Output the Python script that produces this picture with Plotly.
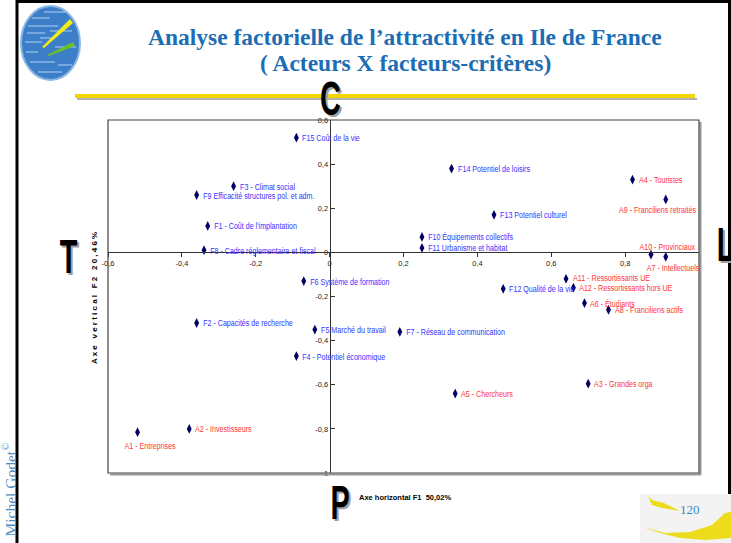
import json
import plotly.graph_objects as go

# ---------------- data ----------------
names = ["F1 - Coût de l'implantation", "F2 - Capacités de recherche", "F3 - Climat social",
         "F4 - Potentiel économique", "F5 Marché du travail", "F6 Système de formation",
         "F7 - Réseau de communication", "F8 - Cadre réglementaire et fiscal",
         "F9 Efficacité structures pol. et adm.", "F10 Équipements collectifs",
         "F11 Urbanisme et habitat", "F12 Qualité de la vie", "F13 Potentiel culturel",
         "F14 Potentiel de loisirs", "F15 Coût de la vie",
         "A1 - Entreprises", "A2 - Investisseurs", "A3 - Grandes orga", "A4 - Touristes",
         "A5 - Chercheurs", "A6 - Étudiants", "A7 - Intellectuels", "A8 - Franciliens actifs",
         "A9 - Franciliens retraités", "A10 - Provinciaux", "A11 - Ressortissants UE",
         "A12 - Ressortissants hors UE"]
f1_values = [-0.33, -0.36, -0.26, -0.09, -0.04, -0.07, 0.19, -0.34, -0.36, 0.25, 0.25, 0.47, 0.445,
             0.33, -0.09,
             -0.52, -0.38, 0.70, 0.82, 0.34, 0.69, 0.91, 0.755, 0.91, 0.87, 0.64, 0.66]
f2_values = [0.12, -0.32, 0.30, -0.47, -0.35, -0.13, -0.36, 0.01, 0.26, 0.07, 0.02, -0.165, 0.17,
             0.38, 0.52,
             -0.815, -0.80, -0.595, 0.33, -0.64, -0.23, -0.02, -0.26, 0.24, -0.01, -0.12, -0.16]

x_range = [-0.6, 1.0]
y_range = [-1.0, 0.6]
x_tick_vals = [-0.6, -0.4, -0.2, 0, 0.2, 0.4, 0.6, 0.8]
x_tick_text = ["-0,6", "-0,4", "-0,2", "0", "0,2", "0,4", "0,6", "0,8"]
y_tick_vals = [-1, -0.8, -0.6, -0.4, -0.2, 0, 0.2, 0.4, 0.6]
y_tick_text = ["-1", "-0,8", "-0,6", "-0,4", "-0,2", "0", "0,2", "0,4", "0,6"]

title_line1 = "Analyse factorielle de l’attractivité en Ile de France"
title_line2 = "( Acteurs X facteurs-critères)"
x_title = "Axe horizontal F1  50,02%"
y_title = "A x e   v e r t i c a l   F 2   2 0 , 4 6 %"

# ---------------- layout helpers ----------------
W, H = 731, 543
L, R, T, B = 108, 699, 120, 473
PW, PH = R - L, B - T


def PX(x):
    return (x - L) / PW


def PY(y):
    return (B - y) / PH


def path(points, close=True):
    s = "M " + " L ".join(f"{PX(x):.5f},{PY(y):.5f}" for x, y in points)
    return s + (" Z" if close else "")


SANS = "Liberation Sans Narrow, Arial Narrow, Liberation Sans, Arial, sans-serif"
SERIF = "Liberation Serif, Times New Roman, serif"

fig = go.Figure()
fig.add_trace(go.Scatter(
    x=f1_values, y=f2_values, mode="markers",
    marker=dict(symbol="diamond-tall", size=7, color="#000066"),
    hoverinfo="text", hovertext=names, showlegend=False, cliponaxis=False))

# label placement styles (xanchor, xshift, yshift)
special = {
    "A1 - Entreprises": ("center", 12, -13),
    "A9 - Franciliens retraités": ("center", -8, -10),
    "A10 - Provinciaux": ("center", 17, 8),
    "A7 - Intellectuels": ("center", 7, -11),
    "A11 - Ressortissants UE": ("left", 5, 1),
}
annotations = []
condense = {}  # annotation index -> (scaleX, transform origin)
for n, x, y in zip(names, f1_values, f2_values):
    col = "#ff3333" if n.startswith("A") else "#3333ff"
    xa, xs, ys = special.get(n, ("left", 4, 0))
    condense[len(annotations)] = (0.75, "left center" if xa == "left" else "center")
    annotations.append(dict(x=x, y=y, xref="x", yref="y", text=n, showarrow=False,
                            xanchor=xa, yanchor="middle", xshift=xs, yshift=ys,
                            font=dict(family=SANS, size=9.5, color=col)))

# titles
annotations += [
    dict(x=PX(405), y=PY(37), xref="paper", yref="paper", text=f"<b>{title_line1}</b>",
         showarrow=False, xanchor="center", yanchor="middle",
         font=dict(family=SERIF, size=23.5, color="#1c6db3")),
    dict(x=PX(405), y=PY(63), xref="paper", yref="paper", text=f"<b>{title_line2}</b>",
         showarrow=False, xanchor="center", yanchor="middle",
         font=dict(family=SERIF, size=23.5, color="#1c6db3")),
    dict(x=PX(357), y=PY(497), xref="paper", yref="paper", text=f"<b>{x_title}</b>",
         showarrow=False, xanchor="left", yanchor="middle",
         font=dict(family=SANS, size=7.5, color="#000000")),
    dict(x=PX(94), y=PY(298), xref="paper", yref="paper", text=f"<b>{y_title}</b>",
         showarrow=False, xanchor="center", yanchor="middle", textangle=-90,
         font=dict(family=SANS, size=8, color="#000000")),
    dict(x=PX(9.5), y=PY(490), xref="paper", yref="paper", text="Michel Godet<sup>©</sup>",
         showarrow=False, xanchor="center", yanchor="middle", textangle=-90,
         font=dict(family=SERIF, size=15.5, color="#4a90c8")),
    dict(x=PX(690), y=PY(509), xref="paper", yref="paper", text="120",
         showarrow=False, xanchor="center", yanchor="middle",
         font=dict(family=SERIF, size=13, color="#3a86c8")),
]

# big compass letters with shadows
for letter, cx, cy in [("C", 330, 98), ("T", 68, 256), ("L", 725, 244), ("P", 340, 502)]:
    for dx, dy, col in [(2, 2, "#a0a0a0"), (0, 0, "#000000")]:
        condense[len(annotations)] = (0.6, "center")
        annotations.append(dict(x=PX(cx + dx), y=PY(cy + dy), xref="paper", yref="paper",
                                text=f"<b>{letter}</b>", showarrow=False,
                                xanchor="center", yanchor="middle",
                                font=dict(family=SANS, size=48, color=col)))

shapes = [
    # slide border
    dict(type="line", xref="paper", yref="paper", x0=PX(17), x1=PX(17), y0=PY(0), y1=PY(543),
         line=dict(color="#000000", width=3)),
    dict(type="line", xref="paper", yref="paper", x0=PX(16), x1=PX(731), y0=PY(1.5), y1=PY(1.5),
         line=dict(color="#000000", width=3)),
    dict(type="line", xref="paper", yref="paper", x0=PX(729.5), x1=PX(729.5), y0=PY(0), y1=PY(543),
         line=dict(color="#000000", width=3)),
    # yellow rule under title
    dict(type="line", xref="paper", yref="paper", x0=PX(77), x1=PX(697), y0=PY(99), y1=PY(99),
         line=dict(color="#b0b0b0", width=2)),
    dict(type="line", xref="paper", yref="paper", x0=PX(75), x1=PX(695), y0=PY(96), y1=PY(96),
         line=dict(color="#f2d600", width=4)),
    # plot frame with shadow
    dict(type="line", xref="paper", yref="paper", x0=PX(R + 1.5), x1=PX(R + 1.5), y0=PY(T + 2), y1=PY(B + 2),
         line=dict(color="#9a9a9a", width=2)),
    dict(type="line", xref="paper", yref="paper", x0=PX(L + 2), x1=PX(R + 2), y0=PY(B + 1.5), y1=PY(B + 1.5),
         line=dict(color="#9a9a9a", width=2)),
    dict(type="rect", xref="paper", yref="paper", x0=0, x1=1, y0=0, y1=1,
         line=dict(color="#444444", width=1.2)),
    # logo
    dict(type="circle", xref="paper", yref="paper", x0=PX(21), x1=PX(80), y0=PY(80), y1=PY(6),
         fillcolor="#3c7ec8", line=dict(color="#8ab6e4", width=2)),
]
for x0, x1, y in [(32, 50, 18), (28, 58, 26), (27, 45, 33), (50, 72, 31), (25, 42, 42),
                  (55, 76, 47), (26, 38, 52), (30, 55, 62), (58, 72, 65), (38, 62, 72),
                  (44, 68, 12), (40, 52, 38)]:
    shapes.append(dict(type="line", xref="paper", yref="paper", x0=PX(x0), x1=PX(x1), y0=PY(y), y1=PY(y),
                       line=dict(color="#9cc4ec", width=1.2)))
shapes += [
    dict(type="path", xref="paper", yref="paper",
         path=path([(42, 47), (70, 19), (73, 23), (44, 48)]),
         fillcolor="#f4ea1a", line=dict(width=0)),
    dict(type="path", xref="paper", yref="paper",
         path=path([(47, 55), (73, 42), (75, 46), (49, 56)]),
         fillcolor="#6cbf2a", line=dict(width=0)),
    # bottom-right swoosh
    dict(type="path", xref="paper", yref="paper",
         path=path([(640, 494), (731, 494), (731, 543), (640, 543)]),
         fillcolor="#f3f3f3", line=dict(width=0)),
    dict(type="path", xref="paper", yref="paper",
         path=path([(648, 496), (652, 505), (662, 508), (680, 511), (664, 503), (652, 500)]),
         fillcolor="#eddc1c", line=dict(width=0)),
    dict(type="path", xref="paper", yref="paper",
         path=path([(643, 527), (665, 533), (690, 532), (712, 525), (725, 513), (731, 512),
                    (731, 538), (705, 540), (680, 538), (660, 533)]),
         fillcolor="#eddc1c", line=dict(width=0)),
]

x_pos = (0 - y_range[0]) / (y_range[1] - y_range[0])
y_pos = (0 - x_range[0]) / (x_range[1] - x_range[0])

fig.update_layout(
    width=W, height=H, autosize=False,
    margin=dict(l=L, r=W - R, t=T, b=H - B, pad=0),
    paper_bgcolor="#ffffff", plot_bgcolor="#ffffff",
    xaxis=dict(range=x_range, tickvals=x_tick_vals, ticktext=x_tick_text,
               anchor="free", position=x_pos, showline=True, linecolor="#333333", linewidth=1,
               ticks="outside", ticklen=4, tickcolor="#333333", showgrid=False, zeroline=False,
               tickfont=dict(family=SANS, size=7.5, color="#222222"), fixedrange=True),
    yaxis=dict(range=y_range, tickvals=y_tick_vals, ticktext=y_tick_text,
               anchor="free", position=y_pos, showline=True, linecolor="#333333", linewidth=1,
               ticks="inside", ticklen=4, tickcolor="#333333", showgrid=False, zeroline=False,
               tickfont=dict(family=SANS, size=7.5, color="#222222"), fixedrange=True),
    annotations=annotations,
    shapes=shapes,
    showlegend=False,
)

js = """
document.body.style.margin='0';
document.body.style.overflow='hidden';
var specs = %s;
var gd = document.getElementById('{plot_id}');
gd.querySelectorAll('g.annotation').forEach(function(g){
  var s = specs[g.getAttribute('data-index')];
  if(!s) return;
  var t = g.querySelector('text.annotation-text');
  if(!t) return;
  t.style.transformBox = 'fill-box';
  t.style.transformOrigin = s[1];
  t.style.transform = 'scaleX(' + s[0] + ')';
});
""" % json.dumps({str(k): list(v) for k, v in condense.items()})

fig.write_html("out.html", config={"displayModeBar": False}, post_script=js)
